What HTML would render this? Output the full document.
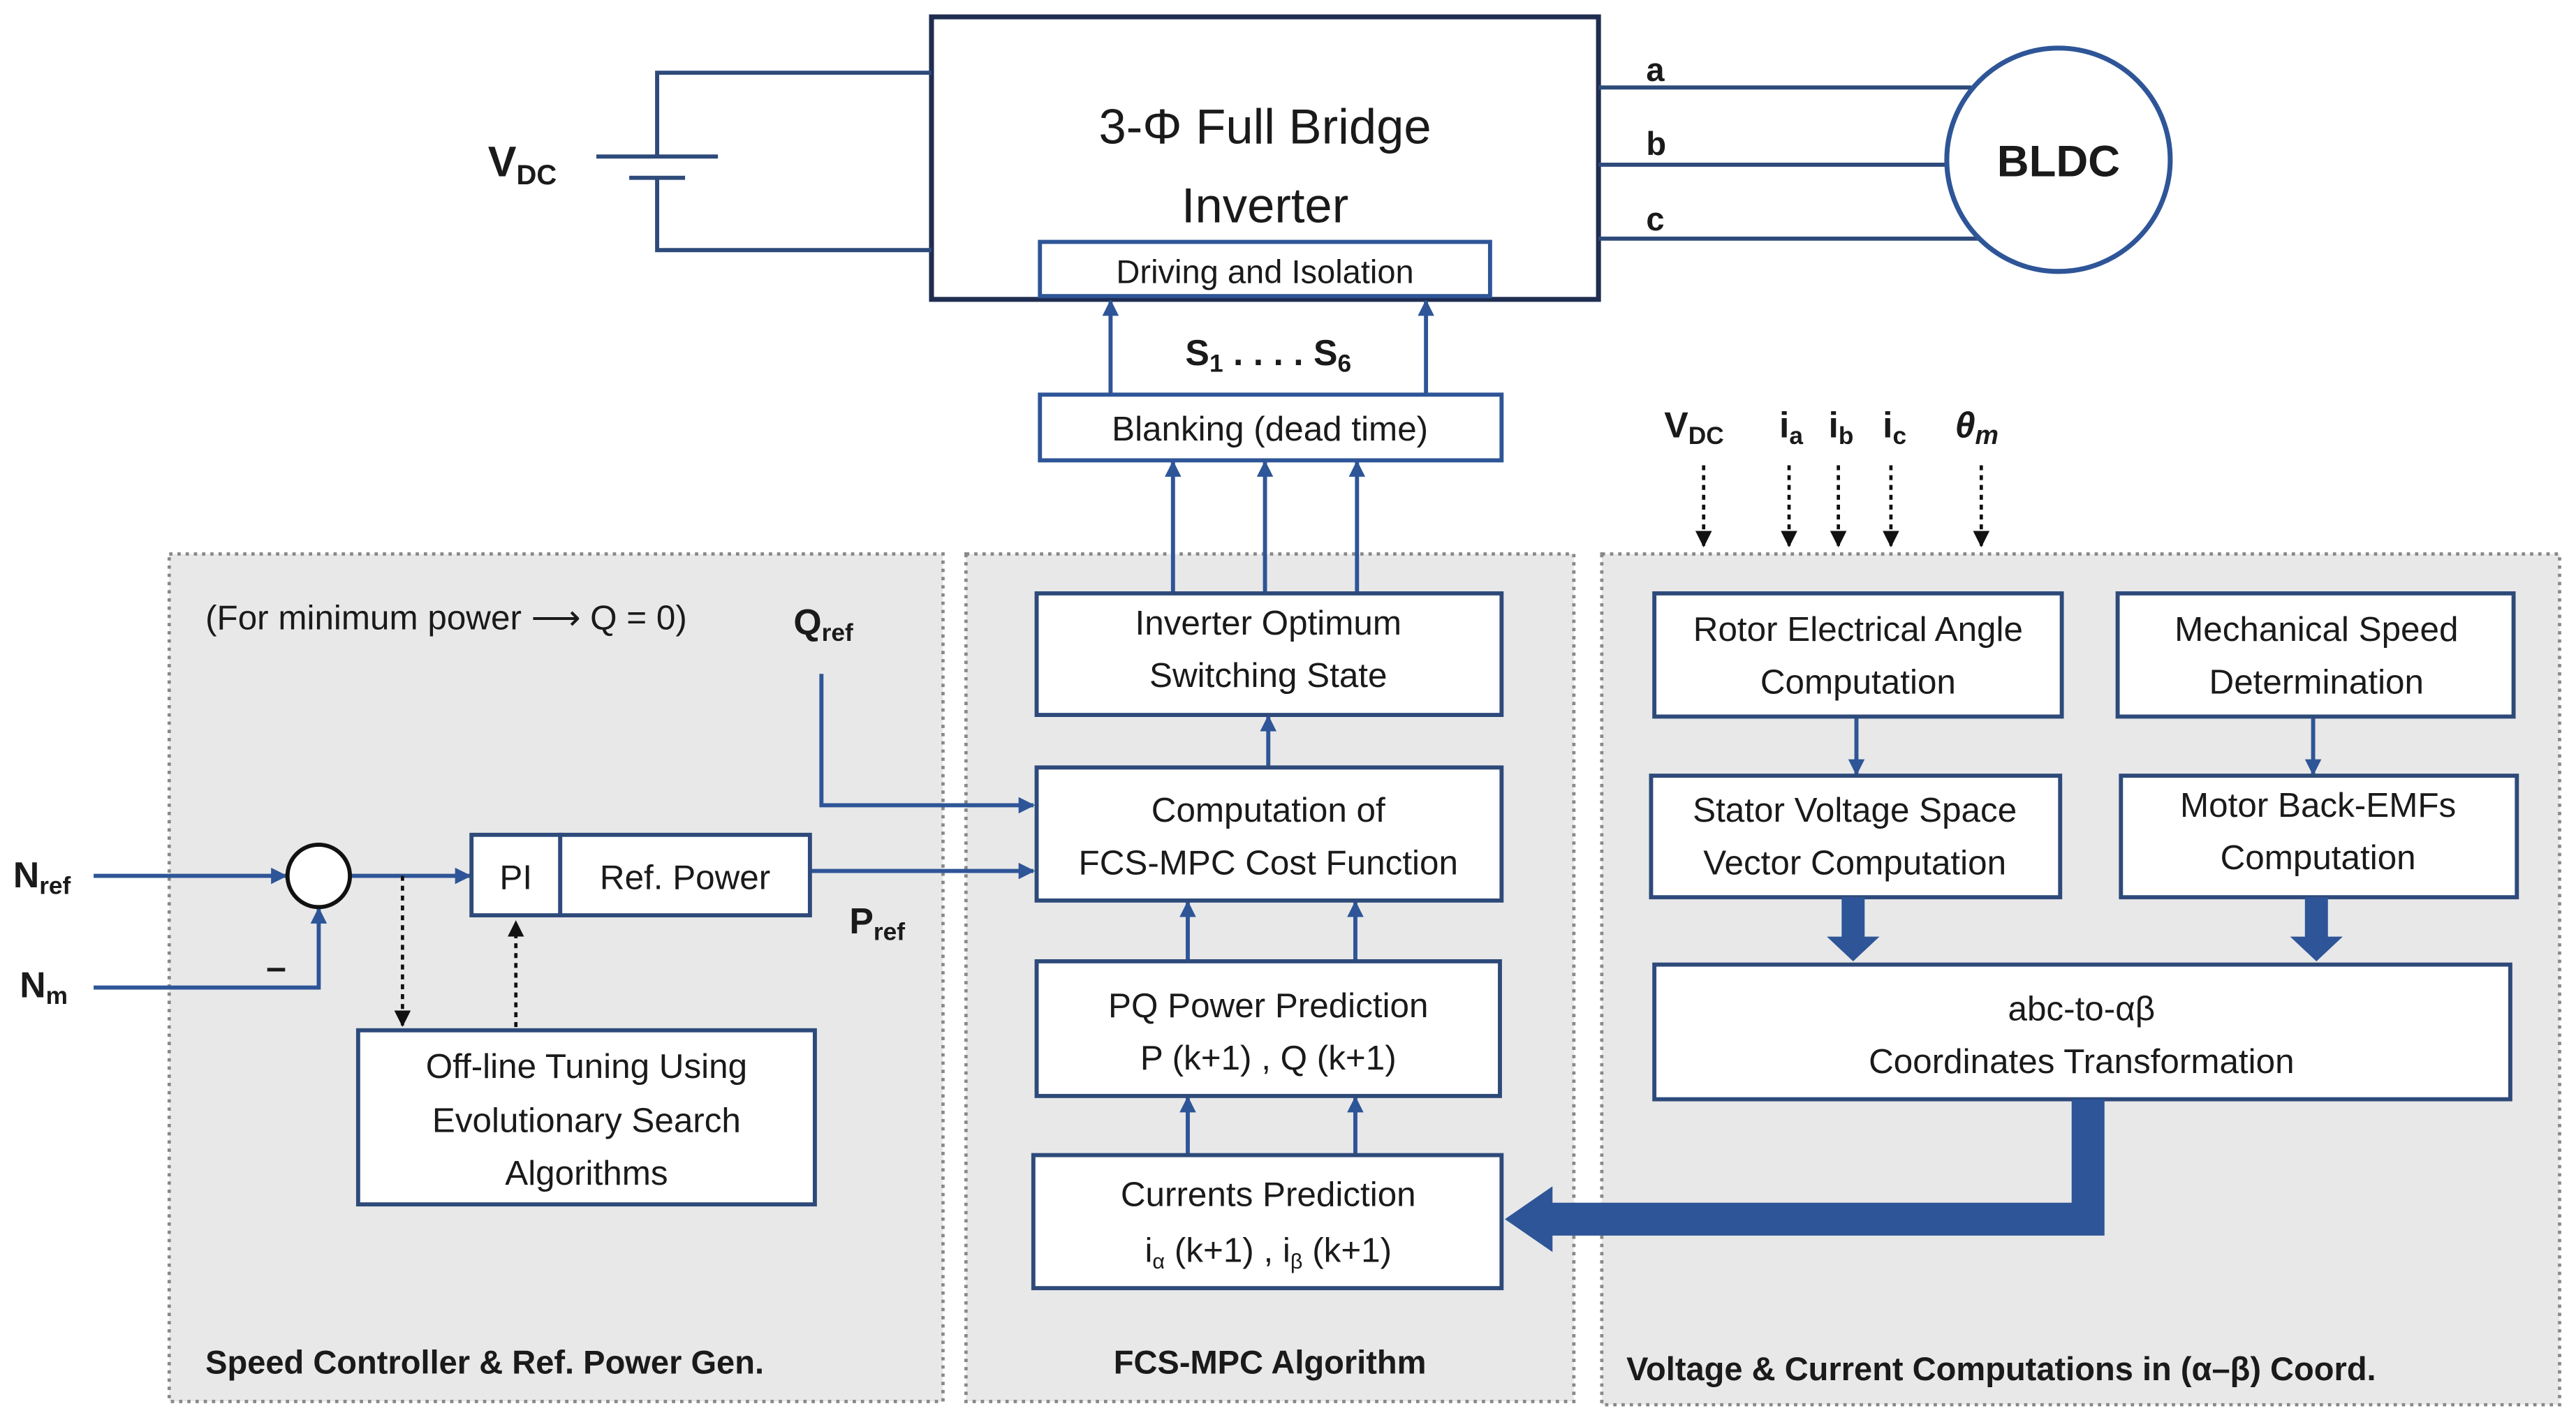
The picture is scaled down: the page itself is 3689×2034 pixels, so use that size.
<!DOCTYPE html>
<html><head><meta charset="utf-8"><style>
html,body{margin:0;padding:0;background:#fff;}
svg{display:block;}
text{font-family:"Liberation Sans",sans-serif;fill:#1a1a1a;}
</style></head><body>
<svg width="3689" height="2034" viewBox="0 0 1568 864" xmlns="http://www.w3.org/2000/svg">
<defs>
<marker id="ar" markerWidth="10" markerHeight="10" refX="9" refY="5" orient="auto" markerUnits="userSpaceOnUse"><path d="M0,0 L10,5 L0,10 z" fill="#2e5597"/></marker>
<marker id="ak" markerWidth="10" markerHeight="10" refX="9" refY="5" orient="auto" markerUnits="userSpaceOnUse"><path d="M0,0 L10,5 L0,10 z" fill="#111"/></marker>
</defs>
<rect width="1568" height="864" fill="#fff"/>
<!-- gray regions -->
<g fill="#e8e8e8" stroke="#888" stroke-width="2" stroke-dasharray="2,3">
<rect x="103" y="337" width="471" height="516"/>
<rect x="588" y="337" width="370" height="516"/>
<rect x="975" y="337" width="583" height="518"/>
</g>
<!-- inverter -->
<rect x="567" y="10" width="406" height="172" fill="#fff" stroke="#1f2d50" stroke-width="3"/>
<text x="770" y="87" font-size="30" text-anchor="middle">3-Φ Full Bridge</text>
<text x="770" y="135" font-size="30" text-anchor="middle">Inverter</text>
<rect x="633" y="147" width="274" height="33" fill="#fff" stroke="#2e5597" stroke-width="2.5"/>
<text x="770" y="172" font-size="20" text-anchor="middle">Driving and Isolation</text>
<!-- battery -->
<g stroke="#2e4a7a" stroke-width="2.5" fill="none">
<polyline points="567,44 400,44 400,95"/>
<polyline points="400,108 400,152 567,152"/>
<line x1="363" y1="95" x2="437" y2="95"/>
<line x1="383" y1="108" x2="417" y2="108"/>
<line x1="973" y1="53" x2="1200" y2="53"/>
<line x1="973" y1="100" x2="1186" y2="100"/>
<line x1="973" y1="145" x2="1205" y2="145"/>
</g>
<text x="297" y="107" font-size="26" font-weight="bold">V<tspan font-size="17" dy="5">DC</tspan></text>
<text x="1002" y="49" font-size="20" font-weight="bold">a</text>
<text x="1002" y="94" font-size="20" font-weight="bold">b</text>
<text x="1002" y="140" font-size="20" font-weight="bold">c</text>
<circle cx="1253" cy="97" r="68" fill="#fff" stroke="#2e5597" stroke-width="3"/>
<text x="1253" y="107" font-size="27" font-weight="bold" text-anchor="middle">BLDC</text>
<!-- S arrows -->
<g stroke="#2e5597" stroke-width="2.5" marker-end="url(#ar)">
<line x1="676" y1="240" x2="676" y2="183"/>
<line x1="868" y1="240" x2="868" y2="183"/>
<line x1="714" y1="361" x2="714" y2="281"/>
<line x1="770" y1="361" x2="770" y2="281"/>
<line x1="826" y1="361" x2="826" y2="281"/>
<line x1="772" y1="467" x2="772" y2="436"/>
<line x1="723" y1="585" x2="723" y2="549"/>
<line x1="825" y1="585" x2="825" y2="549"/>
<line x1="723" y1="703" x2="723" y2="668"/>
<line x1="825" y1="703" x2="825" y2="668"/>
<line x1="1130" y1="436" x2="1130" y2="471"/>
<line x1="1408" y1="436" x2="1408" y2="471"/>
<line x1="57" y1="533" x2="174" y2="533"/>
<polyline points="57,601 194,601 194,553" fill="none"/>
<line x1="213" y1="533" x2="286" y2="533"/>
<line x1="493" y1="530" x2="629" y2="530"/>
<polyline points="500,410 500,490 629,490" fill="none"/>
</g>
<text x="772" y="222" font-size="22" font-weight="bold" text-anchor="middle">S<tspan font-size="15" dy="4">1</tspan><tspan dy="-4"> . . . . S</tspan><tspan font-size="15" dy="4">6</tspan></text>
<!-- boxes -->
<g fill="#fff" stroke="#2e4a7a" stroke-width="2.5">
<rect x="633" y="240" width="281" height="40" stroke="#2e5597"/>
<rect x="631" y="361" width="283" height="74"/>
<rect x="631" y="467" width="283" height="81"/>
<rect x="631" y="585" width="282" height="82"/>
<rect x="629" y="703" width="285" height="81"/>
<rect x="1007" y="361" width="248" height="75"/>
<rect x="1289" y="361" width="241" height="75"/>
<rect x="1005" y="472" width="249" height="74"/>
<rect x="1291" y="472" width="241" height="74"/>
<rect x="1007" y="587" width="521" height="82"/>
<rect x="287" y="508" width="54" height="49"/>
<rect x="341" y="508" width="152" height="49"/>
<rect x="218" y="627" width="278" height="106"/>
</g>
<circle cx="194" cy="533" r="19" fill="#fff" stroke="#111" stroke-width="2.5"/>
<g font-size="21" text-anchor="middle">
<text x="773" y="268">Blanking (dead time)</text>
<text x="772" y="386">Inverter Optimum</text>
<text x="772" y="418">Switching State</text>
<text x="772" y="500">Computation of</text>
<text x="772" y="532">FCS-MPC Cost Function</text>
<text x="772" y="619">PQ Power Prediction</text>
<text x="772" y="651">P (k+1) , Q (k+1)</text>
<text x="772" y="734">Currents Prediction</text>
<text x="772" y="768">i<tspan font-size="13" dy="4">α</tspan><tspan dy="-4"> (k+1) , i</tspan><tspan font-size="13" dy="4">β</tspan><tspan dy="-4"> (k+1)</tspan></text>
<text x="1131" y="390">Rotor Electrical Angle</text>
<text x="1131" y="422">Computation</text>
<text x="1410" y="390">Mechanical Speed</text>
<text x="1410" y="422">Determination</text>
<text x="1129" y="500">Stator Voltage Space</text>
<text x="1129" y="532">Vector Computation</text>
<text x="1411" y="497">Motor Back-EMFs</text>
<text x="1411" y="529">Computation</text>
<text x="1267" y="621">abc-to-αβ</text>
<text x="1267" y="653">Coordinates Transformation</text>
<text x="314" y="541">PI</text>
<text x="417" y="541">Ref. Power</text>
<text x="357" y="656">Off-line Tuning Using</text>
<text x="357" y="689">Evolutionary Search</text>
<text x="357" y="721">Algorithms</text>
</g>
<!-- thick arrows -->
<g fill="#2e5597">
<rect x="1121" y="546" width="14" height="26"/><path d="M1112,570 L1144,570 L1128,585 z"/>
<rect x="1403" y="546" width="14" height="26"/><path d="M1394,570 L1426,570 L1410,585 z"/>
<path d="M1261,669 L1281,669 L1281,752 L945,752 L945,762 L916,742 L945,722 L945,732 L1261,732 z"/>
</g>
<!-- dotted arrows -->
<g stroke="#111" stroke-width="2" stroke-dasharray="3,3" marker-end="url(#ak)">
<line x1="1037" y1="283" x2="1037" y2="332"/>
<line x1="1089" y1="283" x2="1089" y2="332"/>
<line x1="1119" y1="283" x2="1119" y2="332"/>
<line x1="1151" y1="283" x2="1151" y2="332"/>
<line x1="1206" y1="283" x2="1206" y2="332"/>
<line x1="245" y1="533" x2="245" y2="624"/>
<line x1="314" y1="625" x2="314" y2="561"/>
</g>
<g font-size="22" font-weight="bold">
<text x="1013" y="266">V<tspan font-size="15" dy="4">DC</tspan></text>
<text x="1083" y="266">i<tspan font-size="15" dy="4">a</tspan></text>
<text x="1113" y="266">i<tspan font-size="15" dy="4">b</tspan></text>
<text x="1146" y="266">i<tspan font-size="15" dy="4">c</tspan></text>
<text x="1190" y="266" font-style="italic" font-family="Liberation Serif, serif">θ<tspan font-size="16" dy="4">m</tspan></text>
<text x="8" y="540">N<tspan font-size="15" dy="4">ref</tspan></text>
<text x="12" y="607">N<tspan font-size="15" dy="4">m</tspan></text>
<text x="162" y="596">–</text>
<text x="483" y="386">Q<tspan font-size="15" dy="4">ref</tspan></text>
<text x="517" y="568">P<tspan font-size="15" dy="4">ref</tspan></text>
</g>
<text x="125" y="383" font-size="21">(For minimum power ⟶ Q = 0)</text>
<g font-size="20" font-weight="bold">
<text x="125" y="836">Speed Controller &amp; Ref. Power Gen.</text>
<text x="773" y="836" text-anchor="middle">FCS-MPC Algorithm</text>
<text x="990" y="840">Voltage &amp; Current Computations in (α–β) Coord.</text>
</g>
</svg>
</body></html>
